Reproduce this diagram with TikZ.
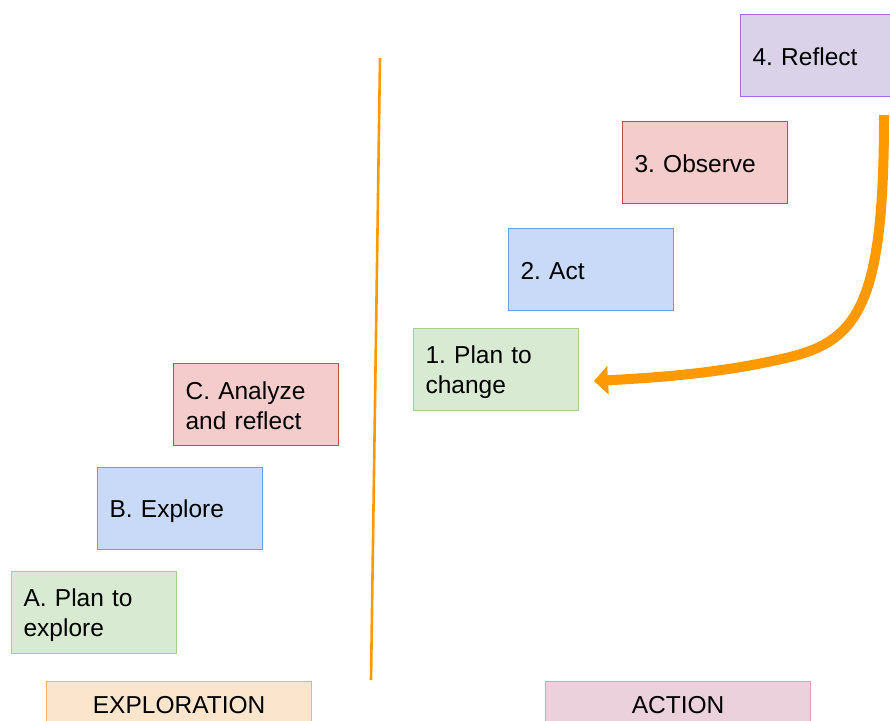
\documentclass[tikz,border=0pt]{standalone}
\usepackage{fontspec}
\setmainfont{Liberation Sans}
\usetikzlibrary{arrows.meta}
\frenchspacing
\newcommand{\stepstrut}{\rule[-3pt]{0pt}{26pt}}
\definecolor{purpfill}{HTML}{D9D2E9}
\definecolor{purpline}{HTML}{A66BEE}
\definecolor{redfill}{HTML}{F4CCCC}
\definecolor{redline}{HTML}{C0504D}
\definecolor{bluefill}{HTML}{C9DAF8}
\definecolor{blueline}{HTML}{6D9EEB}
\definecolor{greenfill}{HTML}{D9EAD3}
\definecolor{greenline}{HTML}{A8D08D}
\definecolor{orafill}{HTML}{FCE5CD}
\definecolor{oraline}{HTML}{F6B26B}
\definecolor{pinkfill}{HTML}{EAD1DC}
\definecolor{pinkline}{HTML}{D5A6BD}
\definecolor{orange}{HTML}{FF9900}
\tikzset{
  stepbox/.style={draw, line width=1.2pt, anchor=north west, minimum width=165pt,
    minimum height=82pt, text width=141pt, align=left, inner xsep=12pt,
    font=\fontsize{24.5}{30}\selectfont\frenchspacing},
  greenbox/.style={stepbox, fill=greenfill, draw=greenline},
  bluebox/.style={stepbox, fill=bluefill, draw=blueline},
  redbox/.style={stepbox, fill=redfill, draw=redline},
  purplebox/.style={stepbox, fill=purpfill, draw=purpline},
  labelbox/.style={draw, line width=1.2pt, anchor=north west, minimum width=265pt,
    minimum height=44pt, align=center, font=\fontsize{24.5}{30}\selectfont},
}
\begin{document}
\begin{tikzpicture}[x=1pt,y=-1pt]
\useasboundingbox (0,0) rectangle (890,720);
\clip (0,0) rectangle (890,720);
\node[purplebox] (reflect) at (740,14) {\stepstrut 4. Reflect};
\node[redbox] (observe) at (622,121) {\stepstrut 3. Observe};
\node[bluebox] (act) at (508,228) {\stepstrut 2. Act};
\node[greenbox] (planchange) at (413,328) {\stepstrut 1. Plan to\\change\stepstrut};
\node[redbox] (analyze) at (173,363) {\stepstrut C. Analyze\\and reflect\stepstrut};
\node[bluebox] (explore) at (97,467) {\stepstrut B. Explore};
\node[greenbox] (planexplore) at (11,571) {\stepstrut A. Plan to\\explore\stepstrut};
\node[labelbox, fill=orafill, draw=oraline] (exploration) at (46,681) {\stepstrut EXPLORATION};
\node[labelbox, fill=pinkfill, draw=pinkline] (action) at (545,681) {\stepstrut ACTION};
\coordinate (divtop) at (380,58);
\coordinate (divbot) at (371,680);
\draw[orange, line width=2.6pt] (divtop) -- (divbot);
\coordinate (arrowstart) at (884,115);
\coordinate (arrowend) at (594,381);
\draw[orange, line width=10pt, -{Triangle[length=14pt,width=28pt]}]
  (arrowstart) .. controls (884,300) and (860,340) .. (790,357)
  .. controls (720,374) and (650,378) .. (arrowend);
\end{tikzpicture}
\end{document}
